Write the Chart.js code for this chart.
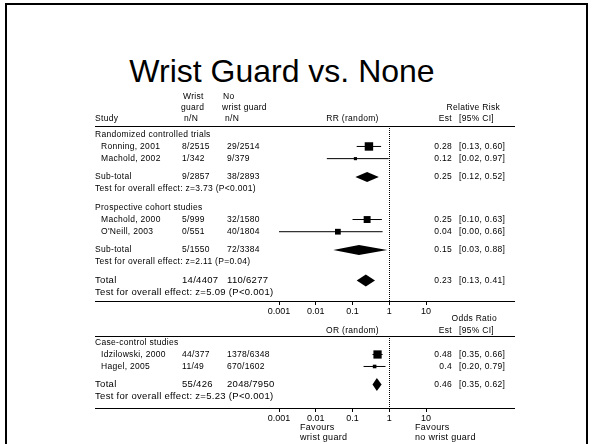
<!DOCTYPE html>
<html>
<head>
<meta charset="utf-8">
<title>Wrist Guard vs. None</title>
<script src="https://cdn.jsdelivr.net/npm/chart.js@4.4.1/dist/chart.umd.min.js"></script>
<style>
  html, body { margin:0; padding:0; background:#fff; }
  body { width:592px; height:444px; position:relative; overflow:hidden; }
  #frame { position:absolute; left:5px; top:3px; width:579px; height:480px; border:2px solid #000; }
  #title { position:absolute; left:0; top:55px; width:564px; text-align:center; font-family:"Liberation Sans", Arial, sans-serif; font-size:32px; line-height:32px; color:#000; white-space:nowrap; }
  canvas { position:absolute; left:0; top:0; }
</style>
</head>
<body>
<div id="frame"></div>
<div id="title">Wrist Guard vs. None</div>
<canvas id="rr" width="592" height="444"></canvas>
<canvas id="or" width="592" height="444"></canvas>
<script>
// ---------------- DATA ----------------
const groupNames = ["Randomized controlled trials", "Prospective cohort studies"];
const studyNames = [["Ronning, 2001", "Machold, 2002"], ["Machold, 2000", "O'Neill, 2003"]];
const eventsWG   = [["8/2515", "1/342"], ["5/999", "0/551"]];
const eventsNoWG = [["29/2514", "9/379"], ["32/1580", "40/1804"]];
const rrEst  = [[0.28, 0.12], [0.25, 0.04]];
const rrLow  = [[0.13, 0.02], [0.10, 0.001]];
const rrHigh = [[0.60, 0.97], [0.63, 0.66]];
const rrWeight = [[88, 12], [59, 41]];

const subWG   = ["9/2857", "5/1550"];
const subNoWG = ["38/2893", "72/3384"];
const subEst  = [0.25, 0.15];
const subLow  = [0.12, 0.03];
const subHigh = [0.52, 0.88];
const subTest = ["z=3.73 (P<0.001)", "z=2.11 (P=0.04)"];

const totalRRCounts = ["14/4407", "110/6277"];
const totalRR = [0.23, 0.13, 0.41];          // est, low, high
const totalRRTest = "z=5.09 (P<0.001)";

const ccGroup = "Case-control studies";
const ccNames = ["Idzilowski, 2000", "Hagel, 2005"];
const ccWG    = ["44/377", "11/49"];
const ccNoWG  = ["1378/6348", "670/1602"];
const orEst   = [0.48, 0.4];
const orLow   = [0.35, 0.20];
const orHigh  = [0.66, 0.79];
const orWeight = [84, 16];
const totalORCounts = ["55/426", "2048/7950"];
const totalOR = [0.46, 0.35, 0.62];
const totalORTest = "z=5.23 (P<0.001)";

const axisTicks = [0.001, 0.01, 0.1, 1, 10];
const axisTickLabels = ["0.001", "0.01", "0.1", "1", "10"];

// ---------------- LAYOUT / STYLE ----------------
const FONT = '"Liberation Sans", Arial, Helvetica, sans-serif';
const X_LEFT = 95, X_INDENT = 101, X_WG = 182, X_NWG = 227, X_EST = 452, X_CI = 459, X_RIGHT = 515;

function put(ctx, s, x, y, align, size) {
  ctx.save();
  ctx.font = (size || 8.5) + 'px ' + FONT;
  try { ctx.letterSpacing = '0.3px'; } catch (e) {}
  ctx.textAlign = align || 'left';
  ctx.textBaseline = 'middle';
  ctx.fillStyle = '#000';
  ctx.fillText(s, x, y);
  ctx.restore();
}
const ci = (lo, hi) => '[' + lo.toFixed(2) + ', ' + hi.toFixed(2) + ']';
const boxRadius = w => 0.9 * Math.sqrt(w) / Math.SQRT2;

function topRows() {
  const rows = []; let r = 0;
  groupNames.forEach((g, gi) => {
    rows.push({type: 'group', r, text: g}); r += 1;
    studyNames[gi].forEach((n, si) => {
      rows.push({type: 'study', r, name: n, wg: eventsWG[gi][si], nwg: eventsNoWG[gi][si],
        est: rrEst[gi][si], lo: rrLow[gi][si], hi: rrHigh[gi][si], w: rrWeight[gi][si]});
      r += 1;
    });
    r += 0.5;
    rows.push({type: 'sub', r, name: 'Sub-total', wg: subWG[gi], nwg: subNoWG[gi], est: subEst[gi], lo: subLow[gi], hi: subHigh[gi]});
    r += 1;
    rows.push({type: 'test', r, text: 'Test for overall effect: ' + subTest[gi]});
    r += 1.5;
  });
  rows.push({type: 'total', r, name: 'Total', wg: totalRRCounts[0], nwg: totalRRCounts[1], est: totalRR[0], lo: totalRR[1], hi: totalRR[2]});
  r += 1;
  rows.push({type: 'testTotal', r, text: 'Test for overall effect: ' + totalRRTest});
  return rows;
}
function bottomRows() {
  const rows = []; let r = 0;
  rows.push({type: 'group', r, text: ccGroup}); r += 1;
  ccNames.forEach((n, i) => {
    rows.push({type: 'study', r, name: n, wg: ccWG[i], nwg: ccNoWG[i], est: orEst[i], lo: orLow[i], hi: orHigh[i], w: orWeight[i]});
    r += 1;
  });
  r += 0.5;
  rows.push({type: 'total', r, name: 'Total', wg: totalORCounts[0], nwg: totalORCounts[1], est: totalOR[0], lo: totalOR[1], hi: totalOR[2]});
  r += 1;
  rows.push({type: 'testTotal', r, text: 'Test for overall effect: ' + totalORTest});
  return rows;
}

function makeChart(id, rows, cfg) {
  const studies = rows.filter(d => d.type === 'study');
  const ciSets = studies.map(s => ({
    data: [{x: s.lo, y: s.r}, {x: s.hi, y: s.r}],
    showLine: true, borderColor: '#000', borderWidth: 1, pointRadius: 0, fill: false, order: 2
  }));
  const boxSet = {
    data: studies.map(s => ({x: s.est, y: s.r})),
    showLine: false, pointStyle: 'rect',
    pointRadius: studies.map(s => boxRadius(s.w)),
    backgroundColor: '#000', borderColor: '#000', borderWidth: 0, order: 1
  };
  const forest = {
    id: 'forest_' + id,
    afterDatasetsDraw(chart) {
      const {ctx, scales: {x, y}} = chart;
      rows.filter(d => d.type === 'sub' || d.type === 'total').forEach(d => {
        const yc = y.getPixelForValue(d.r);
        const h = d.type === 'total' ? cfg.totalHalf : 5;
        ctx.save();
        ctx.beginPath();
        ctx.moveTo(x.getPixelForValue(d.lo), yc);
        ctx.lineTo(x.getPixelForValue(d.est), yc - h);
        ctx.lineTo(x.getPixelForValue(d.hi), yc);
        ctx.lineTo(x.getPixelForValue(d.est), yc + h);
        ctx.closePath();
        ctx.fillStyle = '#000';
        ctx.fill();
        ctx.restore();
      });
    },
    afterDraw(chart) {
      const {ctx, chartArea: a, scales: {x, y}} = chart;
      ctx.save();
      ctx.fillStyle = '#000';
      // header rule and axis rule across the table
      ctx.fillRect(X_LEFT, Math.round(a.top), X_RIGHT - X_LEFT, 1);
      ctx.fillRect(X_LEFT, Math.round(a.bottom), X_RIGHT - X_LEFT, 1);
      // dotted line of no effect
      const x1 = Math.round(x.getPixelForValue(1));
      for (let yy = Math.round(a.top); yy < a.bottom; yy += 2) ctx.fillRect(x1, yy, 1, 1);
      ctx.restore();
      // headers
      cfg.headers(ctx, a, x);
      // rows
      rows.forEach(d => {
        const yc = y.getPixelForValue(d.r);
        const big = (d.type === 'total' || d.type === 'testTotal') ? 9.5 : 8.5;
        if (d.type === 'group' || d.type === 'test' || d.type === 'testTotal') {
          put(ctx, d.text, X_LEFT, yc, 'left', big);
        } else {
          put(ctx, d.name, d.type === 'study' ? X_INDENT : X_LEFT, yc, 'left', big);
          put(ctx, d.wg, X_WG, yc, 'left', big);
          put(ctx, d.nwg, X_NWG, yc, 'left', big);
          put(ctx, String(d.est), X_EST, yc, 'right', 8.5);
          put(ctx, ci(d.lo, d.hi), X_CI, yc, 'left', 8.5);
        }
      });
      if (cfg.footer) cfg.footer(ctx, a, x);
    }
  };
  return new Chart(document.getElementById(id), {
    type: 'scatter',
    data: {datasets: [...ciSets, boxSet]},
    options: {
      responsive: false, animation: false, events: [],
      layout: {padding: {left: 279, right: 166, top: cfg.top, bottom: cfg.bottom}},
      plugins: {legend: {display: false}, tooltip: {enabled: false}, title: {display: false}},
      scales: {
        x: {
          type: 'logarithmic', min: 0.001, max: 10, position: 'bottom',
          afterBuildTicks: s => { s.ticks = axisTicks.map(v => ({value: v})); },
          afterFit: s => { s.height = 20; },
          grid: {display: true, drawOnChartArea: false, drawTicks: true, tickLength: 4, color: '#000', lineWidth: 1},
          border: {display: false},
          ticks: {color: '#000', font: {family: FONT, size: 9}, padding: 1, maxRotation: 0, autoSkip: false,
                  callback: (v, i) => axisTickLabels[i]}
        },
        y: {type: 'linear', reverse: true, min: cfg.ymin, max: cfg.ymax, display: false}
      }
    },
    plugins: [forest]
  });
}

makeChart('rr', topRows(), {
  top: 126, bottom: 123, ymin: -0.68, ymax: 13.69, totalHalf: 6,
  headers(ctx, a, x) {
    const t = a.top;
    put(ctx, 'Wrist', 183, t - 29); put(ctx, 'guard', 181, t - 18); put(ctx, 'n/N', 184, t - 7.5);
    put(ctx, 'No', 223, t - 29); put(ctx, 'wrist guard', 222, t - 18); put(ctx, 'n/N', 225, t - 7.5);
    put(ctx, 'Study', X_LEFT, t - 7.5);
    put(ctx, 'RR (random)', x.getPixelForValue(0.1), t - 7.5, 'center');
    put(ctx, 'Relative Risk', 500, t - 18, 'right');
    put(ctx, 'Est', X_EST, t - 7.5, 'right');
    put(ctx, '[95% CI]', X_CI, t - 7.5);
  }
});

makeChart('or', bottomRows(), {
  top: 336, bottom: 16, ymin: -0.54, ymax: 5.46, totalHalf: 6.5,
  headers(ctx, a, x) {
    const t = a.top;
    put(ctx, 'Odds Ratio', 497, t - 17, 'right');
    put(ctx, 'OR (random)', x.getPixelForValue(0.1), t - 5.5, 'center');
    put(ctx, 'Est', X_EST, t - 5.5, 'right');
    put(ctx, '[95% CI]', X_CI, t - 5.5);
  },
  footer(ctx, a, x) {
    const b = a.bottom;
    put(ctx, 'Favours', 300, b + 20, 'left', 9); put(ctx, 'wrist guard', 300, b + 30, 'left', 9);
    put(ctx, 'Favours', 415, b + 20, 'left', 9); put(ctx, 'no wrist guard', 415, b + 30, 'left', 9);
  }
});
</script>
</body>
</html>
